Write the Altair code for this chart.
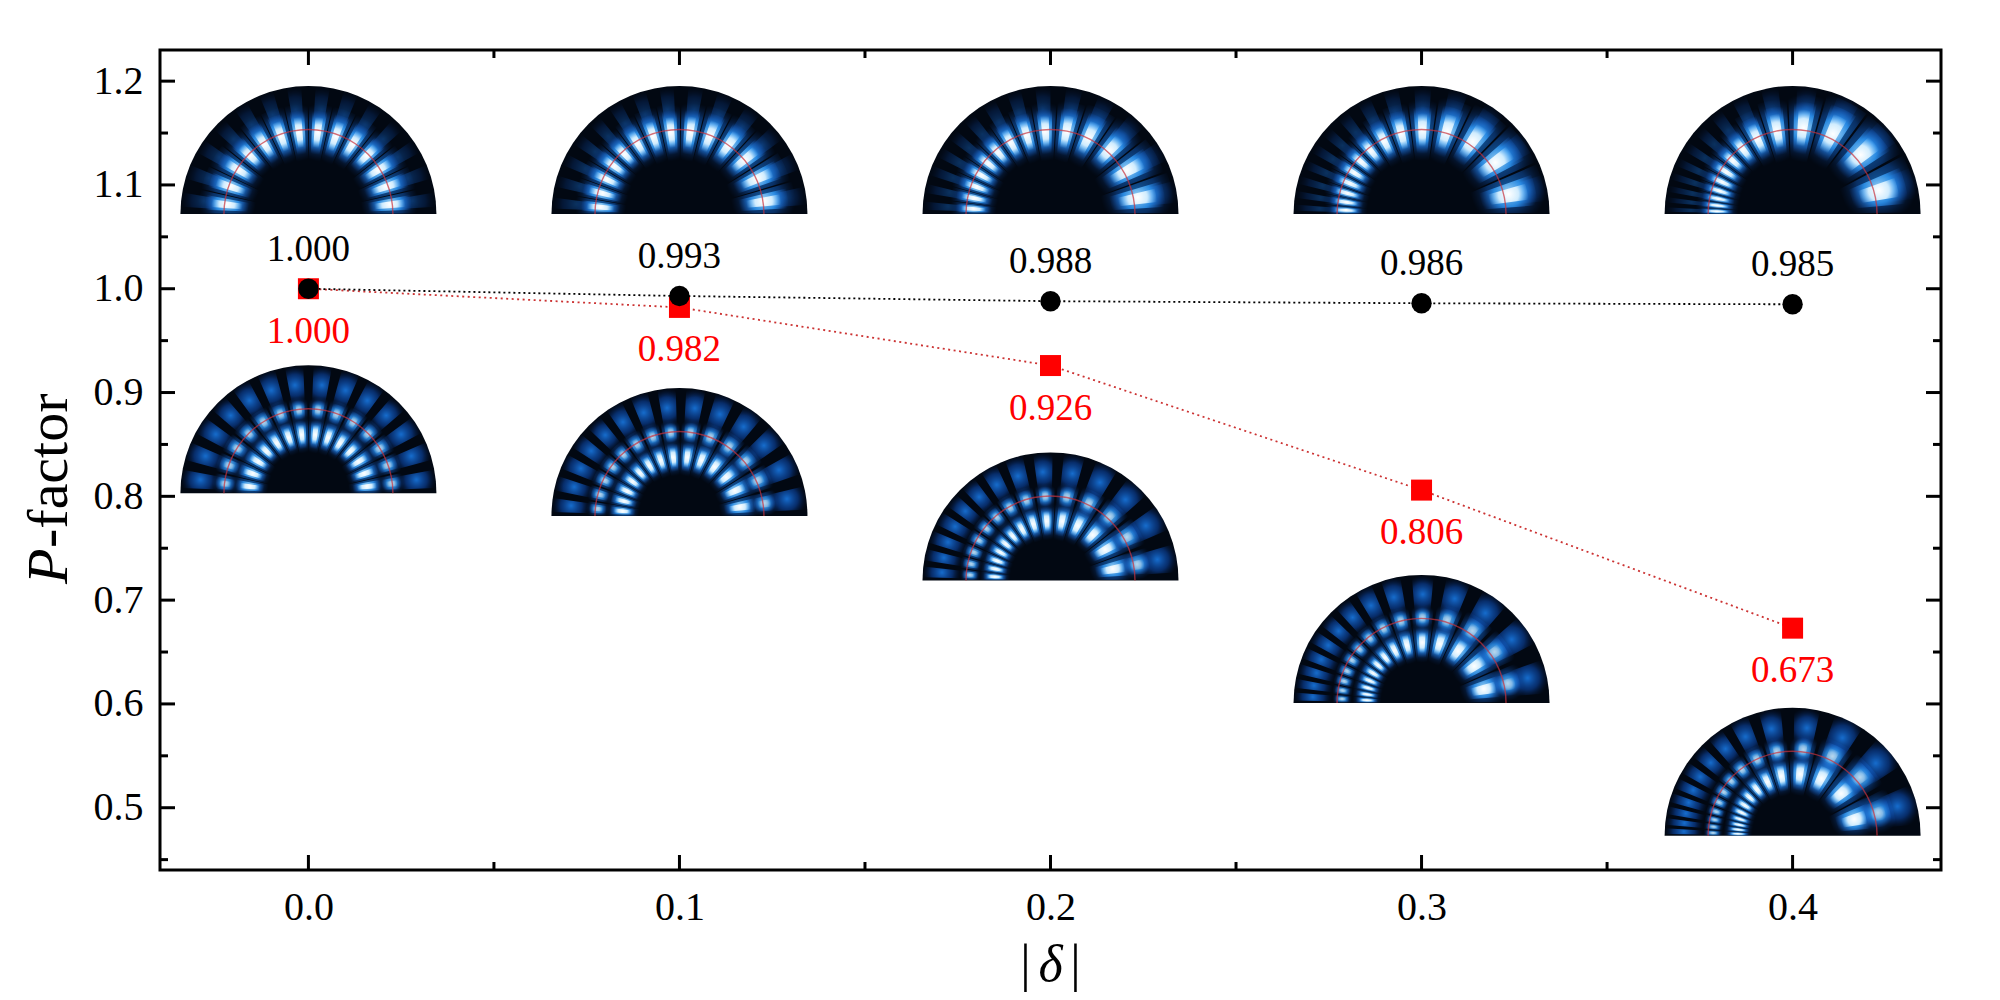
import math
import altair as alt
import pandas as pd

# ---------------- data ----------------
DELTA = [0.0, 0.1, 0.2, 0.3, 0.4]
P_BLACK = [1.000, 0.993, 0.988, 0.986, 0.985]
P_RED = [1.000, 0.982, 0.926, 0.806, 0.673]
LABEL_BLACK = ["1.000", "0.993", "0.988", "0.986", "0.985"]
LABEL_RED = ["1.000", "0.982", "0.926", "0.806", "0.673"]

# anchor (base line centre) of the field-pattern insets, in data units
INSET_UPPER_Y = [1.072, 1.072, 1.072, 1.072, 1.072]
INSET_LOWER_Y = [0.803, 0.781, 0.719, 0.601, 0.473]
# how strongly the lobes crowd to the left in each inset
INSET_SKEW = [0.0, 0.55, 1.05, 1.55, 2.1]

X_TICKS = [0.0, 0.1, 0.2, 0.3, 0.4]
X_MINOR = [0.05, 0.15, 0.25, 0.35]
Y_TICKS = [0.5, 0.6, 0.7, 0.8, 0.9, 1.0, 1.1, 1.2]
Y_MINOR = [0.45, 0.55, 0.65, 0.75, 0.85, 0.95, 1.05, 1.15]

# ---------------- layout / style ----------------
W, H = 1781, 820
R = 128          # inset radius (px)
N_LOBES = 14
FONT = "Liberation Serif"
MAJ, MIN = 15, 8

xs = alt.Scale(domain=[-0.04, 0.44], nice=False, zero=False)
ys = alt.Scale(domain=[0.44, 1.23], nice=False, zero=False)
X_AXIS = alt.Axis(values=X_TICKS, format=".1f", title=None, grid=False, ticks=False,
                  tickSize=0, domain=False, labelFont=FONT, labelFontSize=40,
                  labelColor="black", labelPadding=17)
Y_AXIS = alt.Axis(values=Y_TICKS, format=".1f", title=None, grid=False, ticks=False,
                  tickSize=0, domain=False, labelFont=FONT, labelFontSize=40,
                  labelColor="black", labelPadding=17)


def X(f="x"):
    return alt.X(f"{f}:Q", scale=xs, axis=X_AXIS)


def Y(f="y"):
    return alt.Y(f"{f}:Q", scale=ys, axis=Y_AXIS)


def warp(t, c):
    if c == 0:
        return t
    return (math.exp(c * t) - 1) / (math.exp(c) - 1)


def ang(t, c):
    return -math.pi / 2 + math.pi * warp(t, c)


bg, ring, rays, soft, mid, core = [], [], [], [], [], []
HALF = dict(t1=-math.pi / 2, t2=math.pi / 2)
for i, d in enumerate(DELTA):
    for row, cy in (("upper", INSET_UPPER_Y[i]), ("lower", INSET_LOWER_Y[i])):
        c = INSET_SKEW[i]
        bg.append(dict(x=d, y=cy, ro=R, ri=0, **HALF))
        rr = 0.66 * R
        ring.append(dict(x=d, y=cy, ro=rr + 0.7, ri=rr - 0.7, **HALF))
        for k in range(N_LOBES):
            a0, a1 = ang(k / N_LOBES, c), ang((k + 1) / N_LOBES, c)
            am, da = (a0 + a1) / 2, a1 - a0
            f = min(max(da / (math.pi / N_LOBES), 0.45), 1.6)

            def add(layer, rc, hw, afac, op):
                layer.append(dict(x=d, y=cy, t1=am - afac * da / 2, t2=am + afac * da / 2,
                                  ri=max(rc - hw, 0), ro=min(rc + hw, R), op=op))

            if row == "upper":
                rc = R * (0.64 + 0.09 * (f - 1))
                hw = R * 0.17 * (0.55 + 0.45 * f)
                add(rays, (rc + R) / 2, (R - rc) / 2, 0.5, 0.35)
                add(soft, rc, hw * 1.3, 0.95, 0.6)
                add(mid, rc, hw * 1.0, 0.64, 0.85)
                add(core, rc, hw * 0.7, 0.36, 1.0)
            else:
                add(rays, 0.85 * R, 0.15 * R, 0.64, 0.85)
                rc = R * (0.46 + 0.06 * (f - 1))
                hw = R * 0.11 * (0.6 + 0.4 * f)
                add(soft, rc, hw * 1.3, 0.95, 0.6)
                add(mid, rc, hw * 1.0, 0.64, 0.85)
                add(core, rc, hw * 0.7, 0.36, 1.0)
                rc2 = R * (0.655 + 0.06 * (f - 1))
                hw2 = R * 0.075 * (0.6 + 0.4 * f)
                add(soft, rc2, hw2 * 1.3, 0.9, 0.55)
                add(mid, rc2, hw2, 0.6, 0.7)
                add(core, rc2, hw2 * 0.6, 0.3, 0.45)


def grad(stops):
    return alt.RadialGradient(
        gradient="radial", x1=0.5, y1=0.5, r1=0, x2=0.5, y2=0.5, r2=0.5,
        stops=[alt.GradientStop(offset=o, color=col) for o, col in stops])


BG = "#020812"
G_RAY = grad([(0, "#1a80f0"), (0.55, "rgba(12,80,190,0.6)"), (1, "rgba(5,25,70,0)")])
G_SOFT = grad([(0, "#2196ff"), (0.55, "rgba(20,110,230,0.65)"), (1, "rgba(10,50,120,0)")])
G_MID = grad([(0, "#b5e4ff"), (0.5, "rgba(50,160,255,0.9)"), (1, "rgba(20,90,200,0)")])
G_CORE = grad([(0, "#ffffff"), (0.5, "rgba(215,240,255,0.95)"), (1, "rgba(130,200,255,0)")])


def arcs(rows, **mark):
    enc = dict(x=X(), y=Y(),
               theta=alt.Theta("t1:Q", scale=None), theta2=alt.Theta2("t2:Q"),
               radius=alt.Radius("ro:Q", scale=None), radius2=alt.Radius2("ri:Q"))
    if rows and "op" in rows[0]:
        enc["opacity"] = alt.Opacity("op:Q", scale=None)
    return alt.Chart(pd.DataFrame(rows)).mark_arc(**mark).encode(**enc)


inset_layers = [
    arcs(bg, fill=BG),
    arcs(rays, fill=G_RAY),
    arcs(soft, fill=G_SOFT),
    arcs(mid, fill=G_MID),
    arcs(core, fill=G_CORE),
    arcs(ring, fill="#c8323c", opacity=0.7),
]

black = pd.DataFrame({"x": DELTA, "y": P_BLACK, "lab": LABEL_BLACK})
red = pd.DataFrame({"x": DELTA, "y": P_RED, "lab": LABEL_RED})

red_line = alt.Chart(red).mark_line(color="#cc3333", strokeWidth=1.8, strokeDash=[2, 3.5]).encode(x=X(), y=Y())
black_line = alt.Chart(black).mark_line(color="black", strokeWidth=1.8, strokeDash=[2, 3]).encode(x=X(), y=Y())
red_pts = alt.Chart(red).mark_square(size=441, color="#ff0000", opacity=1).encode(x=X(), y=Y())
black_pts = alt.Chart(black).mark_circle(size=415, color="black", opacity=1).encode(x=X(), y=Y())
red_txt = alt.Chart(red).mark_text(font=FONT, fontSize=37, color="#ff0000", dy=43,
                                   baseline="middle").encode(x=X(), y=Y(), text="lab:N")
black_txt = alt.Chart(black).mark_text(font=FONT, fontSize=37, color="black", dy=-39,
                                       baseline="middle").encode(x=X(), y=Y(), text="lab:N")

# inward ticks on all four sides
xt = pd.DataFrame({"x": X_TICKS})
xm = pd.DataFrame({"x": X_MINOR})
yt = pd.DataFrame({"y": Y_TICKS})
ym = pd.DataFrame({"y": Y_MINOR})
tick_kw = dict(color="black", strokeWidth=3)
ticks = [
    alt.Chart(xt).mark_rule(**tick_kw).encode(x=X(), y=alt.value(H), y2=alt.value(H - MAJ)),
    alt.Chart(xt).mark_rule(**tick_kw).encode(x=X(), y=alt.value(0), y2=alt.value(MAJ)),
    alt.Chart(xm).mark_rule(**tick_kw).encode(x=X(), y=alt.value(H), y2=alt.value(H - MIN)),
    alt.Chart(xm).mark_rule(**tick_kw).encode(x=X(), y=alt.value(0), y2=alt.value(MIN)),
    alt.Chart(yt).mark_rule(**tick_kw).encode(y=Y(), x=alt.value(0), x2=alt.value(MAJ)),
    alt.Chart(yt).mark_rule(**tick_kw).encode(y=Y(), x=alt.value(W), x2=alt.value(W - MAJ)),
    alt.Chart(ym).mark_rule(**tick_kw).encode(y=Y(), x=alt.value(0), x2=alt.value(MIN)),
    alt.Chart(ym).mark_rule(**tick_kw).encode(y=Y(), x=alt.value(W), x2=alt.value(W - MIN)),
]


# axis titles (mixed italic / upright)
def label(txt, x, y, **kw):
    return alt.Chart(pd.DataFrame({"t": [txt]})).mark_text(font=FONT, color="black", **kw).encode(
        text="t:N", x=alt.value(x), y=alt.value(y))


titles = [
    label("P", -93, 534, fontSize=58, fontStyle="italic", angle=270, align="left", baseline="alphabetic"),
    label("-factor", -93, 498, fontSize=58, angle=270, align="left", baseline="alphabetic"),
    label("|", W / 2 - 25, 931, fontSize=52, align="center", baseline="alphabetic"),
    label("δ", W / 2, 931, fontSize=52, fontStyle="italic", align="center", baseline="alphabetic"),
    label("|", W / 2 + 25, 931, fontSize=52, align="center", baseline="alphabetic"),
]

chart = alt.layer(
    *inset_layers, red_line, black_line, red_pts, black_pts, red_txt, black_txt, *ticks, *titles
).properties(
    width=W, height=H,
    autosize=alt.AutoSizeParams(type="none"),
    padding={"left": 152, "top": 42, "right": 51, "bottom": 122},
    background="white",
).configure_view(stroke="black", strokeWidth=3)

chart.save("out.html", embed_options={"renderer": "svg", "actions": False})
